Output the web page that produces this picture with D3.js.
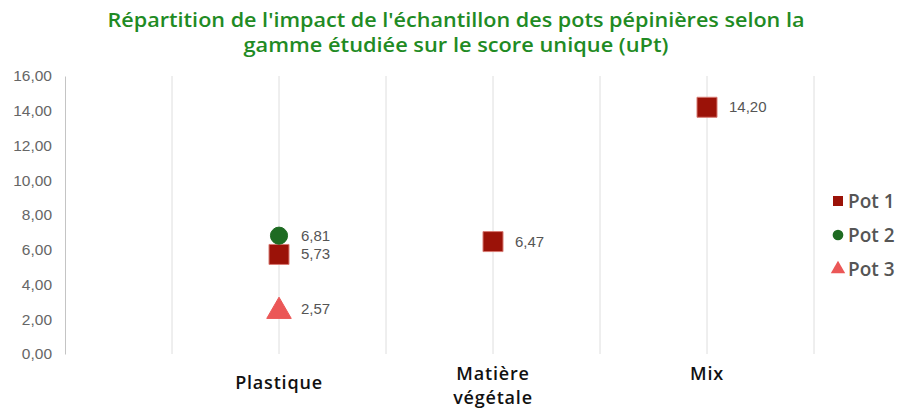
<!DOCTYPE html>
<html>
<head>
<meta charset="utf-8">
<script src="https://cdn.jsdelivr.net/npm/d3@7"></script>
<style>
  body { margin: 0; background: #fff; }
  text { font-family: "Open Sans", "Noto Sans", sans-serif; }
  text.num { font-family: "Liberation Sans", Arial, sans-serif; }
</style>
</head>
<body>
<svg width="898" height="410"></svg>
<script>
// Chart data
let categories = ["Plastique", "Matière végétale", "Mix"];
let categoryLines = [["Plastique"], ["Matière", "végétale"], ["Mix"]];
let seriesNames = ["Pot 1", "Pot 2", "Pot 3"];
let pot1 = [5.73, 6.47, 14.20];
let pot2 = [6.81, null, null];
let pot3 = [2.57, null, null];
let yTicks = [0, 2, 4, 6, 8, 10, 12, 14, 16];
let titleLines = [
    "Répartition de l'impact de l'échantillon des pots pépinières selon la",
    "gamme étudiée sur le score unique (uPt)"
];

let svg = d3.select("svg");
let plotLeft = 65, plotRight = 814, plotTop = 76, plotBottom = 354;

let xScale = d3.scaleLinear().domain([0, 3.5]).range([plotLeft, plotRight]);
let yScale = d3.scaleLinear().domain([0, 16]).range([plotBottom, plotTop]);

let fmt = v => v.toFixed(2).replace(".", ",");

// Title (stretched to match the wide original typeface)
let titleWidths = [697, 425];
svg.append("g").selectAll("text")
    .data(titleLines)
    .enter()
    .append("text")
    .attr("x", 456)
    .attr("y", (d, i) => 27 + i * 25)
    .attr("text-anchor", "middle")
    .attr("font-size", 19)
    .attr("font-weight", 600)
    .attr("fill", "#1f8b24")
    .attr("textLength", (d, i) => titleWidths[i])
    .attr("lengthAdjust", "spacingAndGlyphs")
    .text(d => d);

// Vertical gridlines
let gridX = d3.range(0.5, 3.51, 0.5);
svg.append("g").selectAll("line")
    .data(gridX)
    .enter()
    .append("line")
    .attr("x1", d => xScale(d)).attr("x2", d => xScale(d))
    .attr("y1", plotTop).attr("y2", plotBottom)
    .attr("stroke", "#dedede")
    .attr("stroke-width", 1);

// Y axis
let y_axis = d3.axisLeft(yScale)
    .tickValues(yTicks)
    .tickFormat(fmt)
    .tickSize(0)
    .tickPadding(13);
let yg = svg.append("g")
    .attr("transform", `translate(${plotLeft}, 0)`)
    .call(y_axis);
yg.select(".domain").attr("stroke", "#c4c4c4");
yg.selectAll("text")
    .attr("class", "num")
    .attr("font-size", 15.5)
    .attr("fill", "#666");

// Category labels
let catG = svg.append("g").selectAll("text")
    .data(categoryLines)
    .enter()
    .append("text")
    .attr("text-anchor", "middle")
    .attr("font-size", 18)
    .attr("font-weight", 600)
    .attr("letter-spacing", 0.8)
    .attr("fill", "#111")
    .attr("transform", (d, i) => `translate(${xScale(i + 1)}, ${d.length === 1 && i === 0 ? 389 : 380})`);
catG.selectAll("tspan")
    .data(d => d)
    .enter()
    .append("tspan")
    .attr("x", 0)
    .attr("dy", (d, i) => i === 0 ? 0 : 24)
    .text(d => d);

// Points
let series = [
    { name: seriesNames[0], values: pot1, shape: d3.symbolSquare, size: 400, color: "#9b1208", stroke: "#d77a72" },
    { name: seriesNames[1], values: pot2, shape: d3.symbolCircle, size: 230, color: "#1e6b22", stroke: "#1e6b22" },
    { name: seriesNames[2], values: pot3, shape: d3.symbolTriangle, size: 260, color: "#eb5757", stroke: "#eb5757" }
];

series.forEach(s => {
    let pts = s.values.map((v, i) => ({ v: v, i: i })).filter(p => p.v !== null);
    let g = svg.append("g");
    g.selectAll("path")
        .data(pts)
        .enter()
        .append("path")
        .attr("d", d3.symbol().type(s.shape).size(s.size))
        .attr("transform", d => `translate(${xScale(d.i + 1)}, ${yScale(d.v) + (s.shape === d3.symbolTriangle ? 2 : 0)})`)
        .attr("fill", s.color)
        .attr("stroke", s.stroke)
        .attr("stroke-width", 1);
    g.selectAll("text")
        .data(pts)
        .enter()
        .append("text")
        .attr("class", "num")
        .attr("x", d => xScale(d.i + 1) + 22)
        .attr("y", d => yScale(d.v) + 5)
        .attr("font-size", 15)
        .attr("fill", "#555")
        .text(d => fmt(d.v));
});

// Legend
let legend = svg.append("g").selectAll("g")
    .data(series)
    .enter()
    .append("g")
    .attr("transform", (d, i) => `translate(838, ${201 + i * 34})`);
legend.append("path")
    .attr("d", d => d3.symbol().type(d.shape).size(d.shape === d3.symbolSquare ? 100 : 90)())
    .attr("fill", d => d.color);
legend.append("text")
    .attr("x", 10)
    .attr("y", 7)
    .attr("font-size", 19)
    .attr("font-weight", 600)
    .attr("fill", "#555")
    .text(d => d.name);
</script>
</body>
</html>
